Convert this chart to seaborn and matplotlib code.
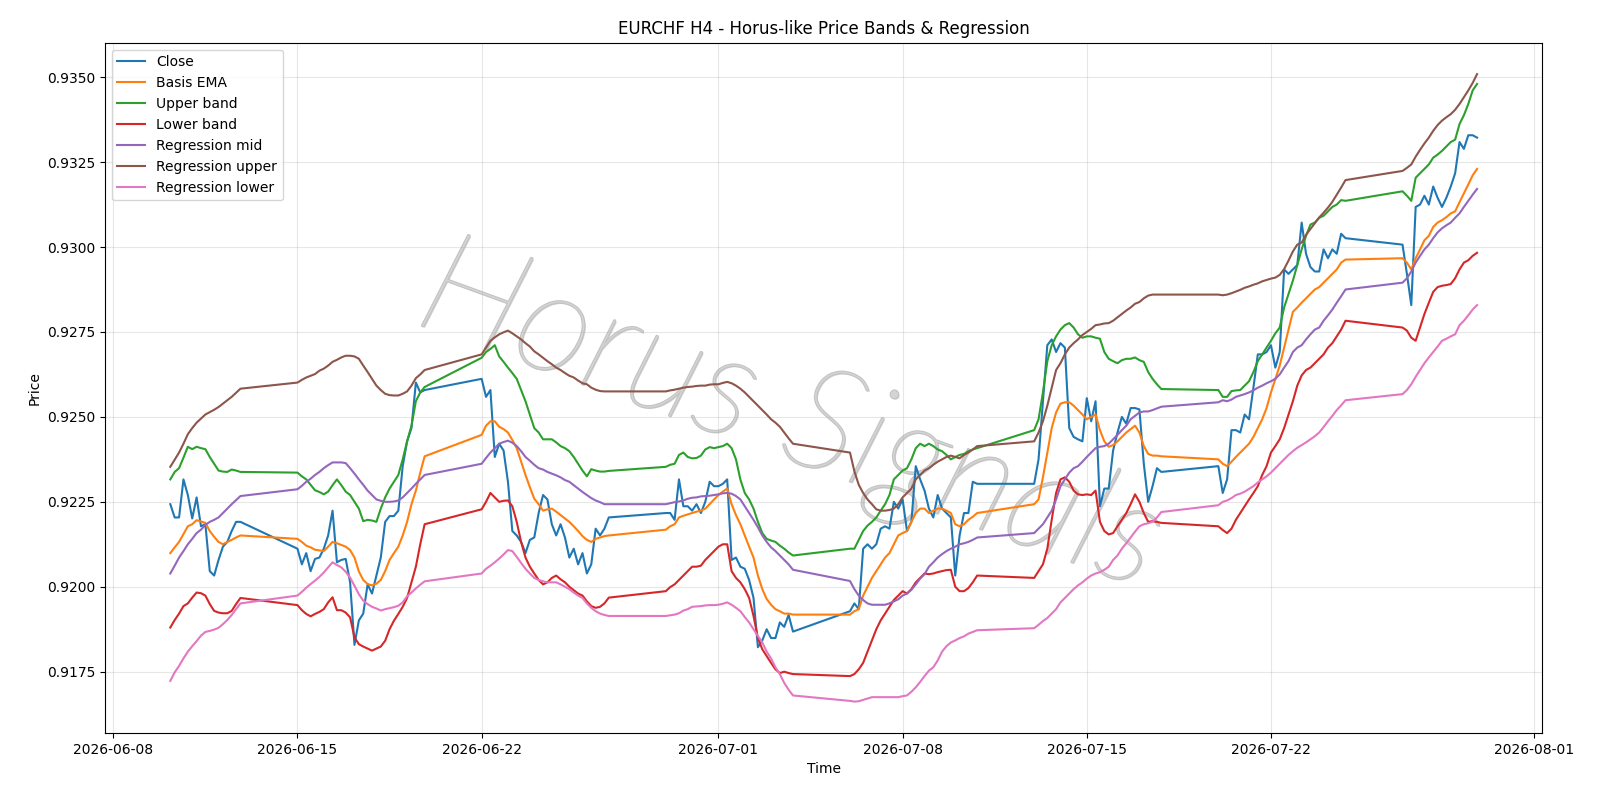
import pandas as pd
import matplotlib.pyplot as plt
import matplotlib.patheffects as pe
import seaborn as sns

# H4 bars, weekdays only
times = pd.date_range("2026-06-10 04:00", "2026-07-29 20:00", freq="4h")
times = times[times.dayofweek < 5]

close = [
    0.92243, 0.92204, 0.92204, 0.92316, 0.92270,
    0.92201, 0.92263, 0.92178, 0.92184, 0.92046, 0.92033,
    0.92079, 0.92118, 0.92132, 0.92164, 0.92191, 0.92191,
    0.92112, 0.92066, 0.92099, 0.92046, 0.92082, 0.92086,
    0.92112, 0.92151, 0.92224, 0.92072, 0.92079, 0.92082,
    0.92013, 0.91829, 0.91901, 0.91921, 0.92007, 0.91980,
    0.92033, 0.92086, 0.92191, 0.92208, 0.92208, 0.92224,
    0.92355, 0.92428, 0.92467, 0.92601, 0.92572, 0.92579,
    0.92612, 0.92559, 0.92579, 0.92382, 0.92421, 0.92401,
    0.92309, 0.92164, 0.92151, 0.92132, 0.92099, 0.92138,
    0.92145, 0.92217, 0.92270, 0.92257, 0.92184, 0.92151,
    0.92184, 0.92145, 0.92086, 0.92112, 0.92066, 0.92099,
    0.92039, 0.92066, 0.92171, 0.92151, 0.92171, 0.92204,
    0.92217, 0.92217, 0.92197, 0.92316, 0.92237, 0.92237,
    0.92224, 0.92243, 0.92217, 0.92250, 0.92309, 0.92296,
    0.92296, 0.92303, 0.92316, 0.92079, 0.92086, 0.92059,
    0.92053, 0.92020, 0.91967, 0.91822, 0.91842, 0.91875,
    0.91849, 0.91849, 0.91895, 0.91882, 0.91917, 0.91868,
    0.91928, 0.91951, 0.91934, 0.92112, 0.92125, 0.92112,
    0.92125, 0.92171, 0.92178, 0.92171, 0.92250, 0.92230,
    0.92257, 0.92164, 0.92191, 0.92355, 0.92316, 0.92283,
    0.92230, 0.92204, 0.92270, 0.92230, 0.92217, 0.92204,
    0.92033, 0.92151, 0.92217, 0.92217, 0.92309, 0.92303,
    0.92303, 0.92375, 0.92546, 0.92711, 0.92728, 0.92691,
    0.92717, 0.92704, 0.92467, 0.92441, 0.92434, 0.92428,
    0.92555, 0.92487, 0.92546, 0.92237, 0.92289, 0.92289,
    0.92401, 0.92454, 0.92500, 0.92480, 0.92526, 0.92526,
    0.92522, 0.92362, 0.92250, 0.92296, 0.92349, 0.92338,
    0.92355, 0.92276, 0.92316, 0.92461, 0.92461, 0.92454,
    0.92507, 0.92493, 0.92586, 0.92684, 0.92684, 0.92691,
    0.92711, 0.92645, 0.92691, 0.92934, 0.92921, 0.92934,
    0.92947, 0.93072, 0.92980, 0.92941, 0.92928, 0.92928,
    0.92993, 0.92967, 0.92993, 0.92980, 0.93039, 0.93026,
    0.93007, 0.92921, 0.92829, 0.93118, 0.93125, 0.93151,
    0.93125, 0.93178, 0.93145, 0.93118, 0.93145, 0.93178,
    0.93217, 0.93309, 0.93289, 0.93329, 0.93329, 0.93322,
]

basis_ema = [
    0.92099, 0.92116, 0.92132, 0.92155, 0.92178,
    0.92184, 0.92196, 0.92192, 0.92188, 0.92164, 0.92147,
    0.92132, 0.92125, 0.92132, 0.92138, 0.92145, 0.92151,
    0.92141, 0.92132, 0.92121, 0.92116, 0.92109, 0.92107,
    0.92105, 0.92118, 0.92132, 0.92128, 0.92123, 0.92118,
    0.92108, 0.92086, 0.92045, 0.92020, 0.92008, 0.92004,
    0.92009, 0.92020, 0.92046, 0.92079, 0.92099, 0.92118,
    0.92151, 0.92191, 0.92243, 0.92283, 0.92336, 0.92384,
    0.92447, 0.92474, 0.92487, 0.92487, 0.92471, 0.92464,
    0.92454, 0.92432, 0.92408, 0.92368, 0.92329, 0.92293,
    0.92259, 0.92243, 0.92224, 0.92228, 0.92230, 0.92221,
    0.92211, 0.92201, 0.92191, 0.92178, 0.92164, 0.92149,
    0.92138, 0.92132, 0.92141, 0.92145, 0.92149, 0.92151,
    0.92168, 0.92178, 0.92184, 0.92204, 0.92209, 0.92213,
    0.92217, 0.92221, 0.92224, 0.92230, 0.92243, 0.92257,
    0.92270, 0.92280, 0.92289, 0.92243, 0.92211, 0.92184,
    0.92151, 0.92118, 0.92086, 0.92033, 0.91993, 0.91964,
    0.91947, 0.91934, 0.91928, 0.91921, 0.91921, 0.91918,
    0.91918, 0.91928, 0.91934, 0.91974, 0.92000, 0.92026,
    0.92046, 0.92066, 0.92086, 0.92099, 0.92125, 0.92151,
    0.92158, 0.92164, 0.92191, 0.92217, 0.92230, 0.92230,
    0.92217, 0.92224, 0.92230, 0.92230, 0.92224, 0.92217,
    0.92184, 0.92178, 0.92184, 0.92197, 0.92206, 0.92217,
    0.92243, 0.92257, 0.92322, 0.92395, 0.92467, 0.92513,
    0.92539, 0.92543, 0.92543, 0.92533, 0.92520, 0.92507,
    0.92493, 0.92500, 0.92507, 0.92461, 0.92428, 0.92412,
    0.92417, 0.92428, 0.92441, 0.92454, 0.92464, 0.92474,
    0.92454, 0.92414, 0.92391, 0.92386, 0.92386, 0.92384,
    0.92375, 0.92362, 0.92355, 0.92368, 0.92382, 0.92395,
    0.92408, 0.92421, 0.92441, 0.92467, 0.92493, 0.92526,
    0.92572, 0.92612, 0.92651, 0.92704, 0.92757, 0.92809,
    0.92822, 0.92836, 0.92849, 0.92862, 0.92875, 0.92882,
    0.92895, 0.92908, 0.92921, 0.92934, 0.92954, 0.92963,
    0.92967, 0.92954, 0.92934, 0.92967, 0.92993, 0.93020,
    0.93033, 0.93059, 0.93072, 0.93079, 0.93088, 0.93099,
    0.93105, 0.93132, 0.93158, 0.93184, 0.93211, 0.93230,
]

upper_band = [
    0.92316, 0.92338, 0.92349, 0.92380, 0.92412,
    0.92405, 0.92412, 0.92408, 0.92405, 0.92382, 0.92362,
    0.92342, 0.92339, 0.92338, 0.92345, 0.92342, 0.92338,
    0.92336, 0.92325, 0.92316, 0.92300, 0.92284, 0.92279,
    0.92272, 0.92280, 0.92299, 0.92316, 0.92299, 0.92280,
    0.92270, 0.92250, 0.92230, 0.92193, 0.92197, 0.92195,
    0.92191, 0.92230, 0.92263, 0.92289, 0.92309, 0.92329,
    0.92375, 0.92428, 0.92474, 0.92546, 0.92572, 0.92588,
    0.92674, 0.92691, 0.92700, 0.92711, 0.92678, 0.92662,
    0.92645, 0.92629, 0.92612, 0.92579, 0.92546, 0.92507,
    0.92467, 0.92454, 0.92434, 0.92434, 0.92434, 0.92425,
    0.92414, 0.92408, 0.92399, 0.92382, 0.92362, 0.92342,
    0.92325, 0.92346, 0.92342, 0.92339, 0.92339, 0.92341,
    0.92353, 0.92359, 0.92362, 0.92388, 0.92395, 0.92382,
    0.92378, 0.92379, 0.92386, 0.92404, 0.92411, 0.92408,
    0.92411, 0.92414, 0.92421, 0.92408, 0.92375, 0.92316,
    0.92276, 0.92257, 0.92230, 0.92191, 0.92158, 0.92141,
    0.92136, 0.92132, 0.92121, 0.92112, 0.92101, 0.92092,
    0.92112, 0.92112, 0.92138, 0.92164, 0.92180, 0.92191,
    0.92204, 0.92224, 0.92243, 0.92270, 0.92316, 0.92329,
    0.92342, 0.92349, 0.92375, 0.92408, 0.92421, 0.92414,
    0.92421, 0.92414, 0.92404, 0.92399, 0.92388, 0.92375,
    0.92382, 0.92388, 0.92391, 0.92399, 0.92404, 0.92408,
    0.92461, 0.92493, 0.92572, 0.92664, 0.92711, 0.92737,
    0.92757, 0.92770, 0.92776, 0.92763, 0.92743, 0.92733,
    0.92737, 0.92737, 0.92733, 0.92730, 0.92691, 0.92671,
    0.92664, 0.92658, 0.92667, 0.92671, 0.92671, 0.92675,
    0.92667, 0.92662, 0.92632, 0.92612, 0.92596, 0.92582,
    0.92579, 0.92559, 0.92559, 0.92576, 0.92578, 0.92579,
    0.92592, 0.92605, 0.92632, 0.92664, 0.92684, 0.92704,
    0.92724, 0.92746, 0.92763, 0.92822, 0.92862, 0.92901,
    0.92947, 0.92993, 0.93033, 0.93066, 0.93072, 0.93086,
    0.93092, 0.93105, 0.93118, 0.93125, 0.93138, 0.93136,
    0.93164, 0.93151, 0.93136, 0.93204, 0.93217, 0.93230,
    0.93243, 0.93263, 0.93272, 0.93283, 0.93296, 0.93309,
    0.93316, 0.93362, 0.93388, 0.93421, 0.93461, 0.93480,
]

lower_band = [
    0.91880, 0.91902, 0.91921, 0.91943, 0.91951,
    0.91968, 0.91983, 0.91981, 0.91974, 0.91949, 0.91929,
    0.91924, 0.91922, 0.91922, 0.91929, 0.91949, 0.91967,
    0.91946, 0.91931, 0.91920, 0.91913, 0.91920, 0.91926,
    0.91934, 0.91954, 0.91969, 0.91931, 0.91931, 0.91924,
    0.91910, 0.91851, 0.91831, 0.91824, 0.91818, 0.91812,
    0.91818, 0.91824, 0.91841, 0.91875, 0.91900, 0.91920,
    0.91941, 0.91967, 0.92013, 0.92059, 0.92125, 0.92184,
    0.92228, 0.92250, 0.92276, 0.92263, 0.92250, 0.92253,
    0.92254, 0.92237, 0.92191, 0.92132, 0.92086, 0.92059,
    0.92039, 0.92020, 0.92007, 0.92013, 0.92026, 0.92033,
    0.92022, 0.92013, 0.92000, 0.91990, 0.91980, 0.91974,
    0.91957, 0.91943, 0.91938, 0.91941, 0.91951, 0.91968,
    0.91987, 0.91999, 0.92007, 0.92020, 0.92033, 0.92046,
    0.92059, 0.92059, 0.92062, 0.92079, 0.92092, 0.92105,
    0.92118, 0.92125, 0.92125, 0.92046, 0.92026, 0.92013,
    0.91993, 0.91967, 0.91914, 0.91849, 0.91816, 0.91796,
    0.91776, 0.91757, 0.91746, 0.91750, 0.91746, 0.91743,
    0.91737, 0.91743, 0.91757, 0.91776, 0.91809, 0.91842,
    0.91875, 0.91901, 0.91921, 0.91941, 0.91961, 0.91974,
    0.91987, 0.91980, 0.91993, 0.92013, 0.92026, 0.92039,
    0.92037, 0.92039, 0.92043, 0.92046, 0.92049, 0.92050,
    0.92000, 0.91987, 0.91987, 0.91996, 0.92013, 0.92033,
    0.92026, 0.92046, 0.92066, 0.92112, 0.92197, 0.92276,
    0.92316, 0.92322, 0.92309, 0.92283, 0.92272, 0.92270,
    0.92272, 0.92270, 0.92283, 0.92191, 0.92164, 0.92154,
    0.92158, 0.92178, 0.92197, 0.92217, 0.92243, 0.92272,
    0.92250, 0.92217, 0.92191, 0.92193, 0.92191, 0.92188,
    0.92178, 0.92167, 0.92158, 0.92171, 0.92197, 0.92217,
    0.92237, 0.92257, 0.92276, 0.92296, 0.92329, 0.92355,
    0.92395, 0.92414, 0.92434, 0.92467, 0.92507, 0.92546,
    0.92592, 0.92622, 0.92638, 0.92645, 0.92658, 0.92671,
    0.92684, 0.92704, 0.92717, 0.92737, 0.92757, 0.92783,
    0.92763, 0.92754, 0.92733, 0.92724, 0.92763, 0.92803,
    0.92836, 0.92868, 0.92882, 0.92886, 0.92888, 0.92891,
    0.92908, 0.92934, 0.92954, 0.92961, 0.92974, 0.92983,
]

reg_mid = [
    0.92039, 0.92062, 0.92086, 0.92105, 0.92125,
    0.92141, 0.92158, 0.92168, 0.92182, 0.92191, 0.92197,
    0.92204, 0.92217, 0.92230, 0.92243, 0.92255, 0.92267,
    0.92287, 0.92297, 0.92309, 0.92318, 0.92329, 0.92338,
    0.92349, 0.92358, 0.92366, 0.92366, 0.92366, 0.92364,
    0.92349, 0.92333, 0.92316, 0.92300, 0.92283, 0.92270,
    0.92257, 0.92253, 0.92250, 0.92250, 0.92251, 0.92254,
    0.92263, 0.92276, 0.92289, 0.92303, 0.92316, 0.92329,
    0.92362, 0.92379, 0.92395, 0.92408, 0.92421, 0.92426,
    0.92430, 0.92424, 0.92414, 0.92399, 0.92382, 0.92371,
    0.92359, 0.92349, 0.92345, 0.92338, 0.92333, 0.92328,
    0.92322, 0.92314, 0.92309, 0.92299, 0.92289, 0.92279,
    0.92270, 0.92261, 0.92254, 0.92249, 0.92243, 0.92243,
    0.92243, 0.92246, 0.92249, 0.92251, 0.92254, 0.92259,
    0.92262, 0.92263, 0.92266, 0.92267, 0.92268, 0.92270,
    0.92272, 0.92275, 0.92276, 0.92274, 0.92267, 0.92257,
    0.92237, 0.92217, 0.92197, 0.92175, 0.92151, 0.92132,
    0.92116, 0.92105, 0.92092, 0.92079, 0.92066, 0.92050,
    0.92017, 0.91993, 0.91974, 0.91961, 0.91951, 0.91947,
    0.91947, 0.91947, 0.91947, 0.91951, 0.91957, 0.91963,
    0.91974, 0.91980, 0.91991, 0.92007, 0.92024, 0.92037,
    0.92059, 0.92072, 0.92086, 0.92096, 0.92105, 0.92112,
    0.92118, 0.92125, 0.92128, 0.92132, 0.92138, 0.92145,
    0.92158, 0.92171, 0.92184, 0.92204, 0.92224, 0.92257,
    0.92296, 0.92316, 0.92336, 0.92349, 0.92355, 0.92368,
    0.92382, 0.92395, 0.92408, 0.92412, 0.92414, 0.92421,
    0.92434, 0.92447, 0.92461, 0.92474, 0.92493, 0.92503,
    0.92513, 0.92516, 0.92516, 0.92520, 0.92525, 0.92530,
    0.92543, 0.92549, 0.92546, 0.92551, 0.92559, 0.92563,
    0.92567, 0.92572, 0.92578, 0.92586, 0.92592, 0.92599,
    0.92605, 0.92612, 0.92625, 0.92645, 0.92664, 0.92691,
    0.92704, 0.92711, 0.92728, 0.92743, 0.92757, 0.92763,
    0.92783, 0.92799, 0.92816, 0.92836, 0.92855, 0.92875,
    0.92895, 0.92908, 0.92928, 0.92954, 0.92974, 0.92993,
    0.93007, 0.93026, 0.93043, 0.93055, 0.93064, 0.93072,
    0.93086, 0.93099, 0.93118, 0.93136, 0.93154, 0.93171,
]

reg_upper = [
    0.92353, 0.92374, 0.92395, 0.92421, 0.92449,
    0.92467, 0.92483, 0.92495, 0.92507, 0.92514, 0.92521,
    0.92529, 0.92539, 0.92549, 0.92559, 0.92571, 0.92583,
    0.92601, 0.92609, 0.92616, 0.92621, 0.92626, 0.92636,
    0.92642, 0.92651, 0.92662, 0.92668, 0.92675, 0.92680,
    0.92680, 0.92678, 0.92671, 0.92651, 0.92632, 0.92612,
    0.92592, 0.92579, 0.92568, 0.92564, 0.92563, 0.92563,
    0.92568, 0.92575, 0.92592, 0.92614, 0.92625, 0.92638,
    0.92684, 0.92704, 0.92724, 0.92734, 0.92743, 0.92749,
    0.92754, 0.92746, 0.92737, 0.92728, 0.92717, 0.92707,
    0.92693, 0.92684, 0.92674, 0.92664, 0.92655, 0.92645,
    0.92638, 0.92629, 0.92621, 0.92616, 0.92607, 0.92599,
    0.92596, 0.92586, 0.92580, 0.92576, 0.92575, 0.92575,
    0.92575, 0.92578, 0.92580, 0.92583, 0.92586, 0.92588,
    0.92589, 0.92591, 0.92592, 0.92592, 0.92595, 0.92596,
    0.92596, 0.92600, 0.92603, 0.92599, 0.92592, 0.92583,
    0.92572, 0.92559, 0.92546, 0.92533, 0.92520, 0.92507,
    0.92493, 0.92483, 0.92471, 0.92454, 0.92437, 0.92421,
    0.92395, 0.92340, 0.92300, 0.92276, 0.92257, 0.92243,
    0.92228, 0.92224, 0.92224, 0.92226, 0.92230, 0.92243,
    0.92263, 0.92276, 0.92289, 0.92316, 0.92329, 0.92342,
    0.92349, 0.92359, 0.92368, 0.92375, 0.92382, 0.92386,
    0.92382, 0.92378, 0.92388, 0.92395, 0.92404, 0.92414,
    0.92428, 0.92454, 0.92487, 0.92533, 0.92586, 0.92638,
    0.92658, 0.92684, 0.92704, 0.92717, 0.92728, 0.92741,
    0.92750, 0.92759, 0.92770, 0.92772, 0.92775, 0.92776,
    0.92783, 0.92793, 0.92803, 0.92813, 0.92822, 0.92833,
    0.92838, 0.92849, 0.92857, 0.92860, 0.92860, 0.92860,
    0.92860, 0.92858, 0.92860, 0.92864, 0.92869, 0.92874,
    0.92880, 0.92884, 0.92889, 0.92893, 0.92899, 0.92903,
    0.92907, 0.92910, 0.92918, 0.92935, 0.92960, 0.92987,
    0.93007, 0.93013, 0.93036, 0.93053, 0.93070, 0.93087,
    0.93101, 0.93116, 0.93133, 0.93154, 0.93175, 0.93197,
    0.93224, 0.93233, 0.93243, 0.93266, 0.93286, 0.93305,
    0.93322, 0.93342, 0.93359, 0.93372, 0.93382, 0.93391,
    0.93404, 0.93421, 0.93441, 0.93461, 0.93483, 0.93509,
]

reg_lower = [
    0.91723, 0.91748, 0.91767, 0.91789, 0.91809,
    0.91825, 0.91840, 0.91856, 0.91867, 0.91870, 0.91874,
    0.91879, 0.91890, 0.91902, 0.91917, 0.91934, 0.91951,
    0.91974, 0.91985, 0.91997, 0.92008, 0.92018, 0.92029,
    0.92042, 0.92057, 0.92072, 0.92064, 0.92057, 0.92044,
    0.92027, 0.92003, 0.91978, 0.91959, 0.91949, 0.91941,
    0.91936, 0.91930, 0.91934, 0.91937, 0.91940, 0.91944,
    0.91954, 0.91972, 0.91983, 0.91995, 0.92006, 0.92016,
    0.92039, 0.92053, 0.92062, 0.92072, 0.92083, 0.92095,
    0.92108, 0.92105, 0.92088, 0.92070, 0.92053, 0.92039,
    0.92026, 0.92020, 0.92016, 0.92013, 0.92013, 0.92013,
    0.92007, 0.92000, 0.91993, 0.91983, 0.91974, 0.91967,
    0.91951, 0.91938, 0.91928, 0.91921, 0.91917, 0.91914,
    0.91914, 0.91916, 0.91918, 0.91922, 0.91930, 0.91934,
    0.91941, 0.91942, 0.91943, 0.91945, 0.91946, 0.91946,
    0.91947, 0.91950, 0.91954, 0.91947, 0.91938, 0.91928,
    0.91911, 0.91895, 0.91875, 0.91855, 0.91836, 0.91809,
    0.91789, 0.91763, 0.91743, 0.91717, 0.91697, 0.91680,
    0.91664, 0.91662, 0.91663, 0.91667, 0.91671, 0.91675,
    0.91675, 0.91675, 0.91675, 0.91675, 0.91675, 0.91675,
    0.91678, 0.91680, 0.91691, 0.91704, 0.91720, 0.91737,
    0.91753, 0.91763, 0.91783, 0.91809, 0.91825, 0.91836,
    0.91842, 0.91849, 0.91854, 0.91862, 0.91867, 0.91872,
    0.91878, 0.91888, 0.91899, 0.91908, 0.91921, 0.91934,
    0.91954, 0.91967, 0.91980, 0.91993, 0.92004, 0.92013,
    0.92024, 0.92033, 0.92039, 0.92043, 0.92050, 0.92059,
    0.92079, 0.92092, 0.92112, 0.92128, 0.92145, 0.92162,
    0.92178, 0.92184, 0.92187, 0.92191, 0.92204, 0.92220,
    0.92240, 0.92250, 0.92254, 0.92261, 0.92270, 0.92274,
    0.92280, 0.92288, 0.92296, 0.92307, 0.92316, 0.92325,
    0.92336, 0.92349, 0.92362, 0.92375, 0.92388, 0.92399,
    0.92409, 0.92417, 0.92425, 0.92434, 0.92443, 0.92454,
    0.92470, 0.92487, 0.92503, 0.92520, 0.92534, 0.92549,
    0.92567, 0.92579, 0.92596, 0.92618, 0.92638, 0.92658,
    0.92675, 0.92691, 0.92707, 0.92724, 0.92730, 0.92737,
    0.92743, 0.92770, 0.92783, 0.92799, 0.92816, 0.92829,
]

series = {
    "Close": close,
    "Basis EMA": basis_ema,
    "Upper band": upper_band,
    "Lower band": lower_band,
    "Regression mid": reg_mid,
    "Regression upper": reg_upper,
    "Regression lower": reg_lower,
}

df = pd.DataFrame(series, index=times)
df.index.name = "time"

colors = sns.color_palette("tab10", 7)

fig, ax = plt.subplots(figsize=(16, 8), dpi=100)
fig.subplots_adjust(left=0.0656, right=0.964, top=0.9466, bottom=0.0838)

for (name, col), c in zip(series.items(), colors):
    sns.lineplot(x=df.index, y=df[name], ax=ax, color=c, label=name, linewidth=1.5)

# watermark: thin italic letters with a soft grey edge
ax.text(0.477, 0.455, "Horus Signals", transform=ax.transAxes, fontsize=104,
        family="Lato", fontweight=200, style="italic", color="#d4d4d4",
        rotation=-20, ha="center", va="center", zorder=1,
        path_effects=[pe.withSimplePatchShadow(offset=(1, -1),
                                               shadow_rgbFace="#a0a0a0", alpha=0.5),
                      pe.Stroke(linewidth=1.5, foreground="#c2c2c2"),
                      pe.Normal()])

ax.set_title("EURCHF H4 - Horus-like Price Bands & Regression")
ax.set_xlabel("Time")
ax.set_ylabel("Price")
ax.grid(True, alpha=0.3)
ax.legend(loc="upper left")

fig.savefig("out.png")
